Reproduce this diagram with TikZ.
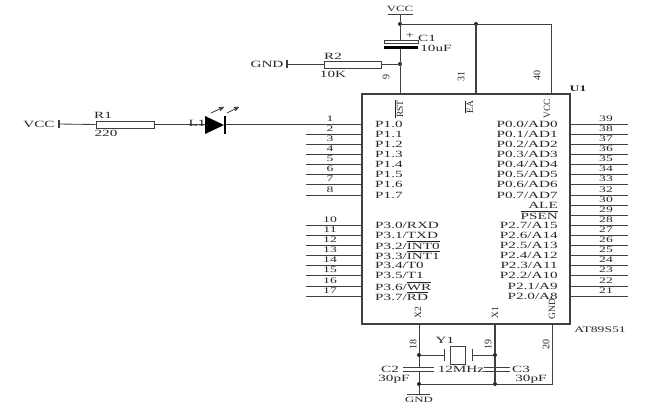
\documentclass[tikz,border=0pt]{standalone}
\usepackage{fontspec}
\setmainfont[FakeStretch=1.6]{Liberation Serif}
\newfontfamily\rotfont{Liberation Serif}
\usetikzlibrary{shapes,arrows,backgrounds,positioning}
\definecolor{wirecol}{gray}{0.25}
\newcommand{\ol}[1]{$\overline{\mbox{#1}}$}
\tikzset{
  wire/.style = {draw=wirecol, line width=0.85pt},
  thickwire/.style = {draw=wirecol, line width=1.4pt},
  txt/.style = {inner sep=0pt, font=\fontsize{9.5}{10}\selectfont, text=black!85},
  pinnum/.style = {txt, font=\fontsize{8.5}{9}\selectfont},
  rotnum/.style = {txt, rotate=90, font=\rotfont\fontsize{10}{10}\selectfont},
  rottxt/.style = {txt, rotate=90, font=\rotfont\fontsize{9.5}{10}\selectfont},
  res/.style = {rectangle, draw=wirecol, line width=0.9pt, fill=white, inner sep=0pt, minimum height=7pt},
  chip/.style = {rectangle, draw=black!75, line width=1.2pt, inner sep=0pt, minimum width=208pt, minimum height=230pt},
  dot/.style = {circle, fill=black!85, inner sep=0pt, minimum size=4pt}
}
\begin{document}
\begin{tikzpicture}[x=1pt,y=-1pt,>=stealth']
    \useasboundingbox (0,0) rectangle (649,408);
    \node [chip](U) at (466,209) {};
    \node [txt, font=\bfseries\fontsize{8.5}{10}\selectfont](U1) at (578,89) {U1};
    \node [txt, font=\fontsize{8.5}{9}\selectfont](part) at (600,330) {AT89S51};
    % left pins
    \foreach \n/\y/\t in {2/134/{P1.1},3/144/{P1.2},4/154/{P1.3},5/164/{P1.4},6/174/{P1.5},7/184/{P1.6},8/195/{P1.7},
      10/225/{P3.0/RXD},11/235/{P3.1/TXD},12/245/{P3.2/\ol{INT0}},13/255/{P3.3/\ol{INT1}},14/265/{P3.4/T0},15/275/{P3.5/T1},16/286/{P3.6/\ol{WR}},17/296/{P3.7/\ol{RD}}}{
      \coordinate (pl\n) at (306,\y);
      \coordinate (cl\n) at (U.west |- pl\n);
      \draw [wire] (pl\n) -- (cl\n);
      \node [pinnum](nl\n) at (330,\y-5) {\n};
      \node [txt, anchor=west](tl\n) at (375,\y) {\t};
    }
    % right pins
    \foreach \n/\y/\t in {39/124/{P0.0/AD0},38/134/{P0.1/AD1},37/144/{P0.2/AD2},36/154/{P0.3/AD3},35/164/{P0.4/AD4},34/174/{P0.5/AD5},33/184/{P0.6/AD6},32/195/{P0.7/AD7},
      30/205/{ALE},29/215/{\ol{PSEN}},
      28/225/{P2.7/A15},27/235/{P2.6/A14},26/245/{P2.5/A13},25/255/{P2.4/A12},24/265/{P2.3/A11},23/275/{P2.2/A10},22/286/{P2.1/A9},21/296/{P2.0/A8}}{
      \coordinate (pr\n) at (628,\y);
      \coordinate (cr\n) at (U.east |- pr\n);
      \draw [wire] (cr\n) -- (pr\n);
      \node [pinnum](nr\n) at (606,\y-5) {\n};
      \node [txt, anchor=east](tr\n) at (558,\y) {\t};
    }
    % R1 and led
    \node [txt](vcc1) at (39,124) {VCC};
    \coordinate (b1t) at (59,120);
    \coordinate (b1b) at (59,128);
    \coordinate (b1) at (59,124);
    \node [res, minimum width=58pt](R1) at (125,124.5) {};
    \node [txt](R1t) at (103,115) {R1};
    \node [txt](R1v) at (106,133) {220};
    \coordinate (la) at (205,124.5);
    \coordinate (lk) at (225,124.5);
    \coordinate (cl1) at (U.west |- lk);
    \draw [wire, line width=1.1pt] (b1t) -- (b1b);
    \draw [wire] (b1) -- (R1.west);
    \draw [wire] (R1.east) -- (la);
    \draw [wire] (lk) -- (cl1);
    \node [txt](L1) at (197,123) {L1};
    \fill [black] (205,116) -- (205,134) -- (224,125) -- cycle;
    \draw [black, line width=1.6pt] (225,116) -- (225,134);
    \draw [->, wire] (211,113) -- (224,107);
    \draw [->, wire] (227,113) -- (239,107);
    \node [pinnum](nl1) at (330,119) {1};
    \node [txt, anchor=west](tl1) at (375,124) {P1.0};
    % reset and vcc
    \node [txt, font=\fontsize{8}{9}\selectfont](vcc2) at (400,9) {VCC};
    \coordinate (b2) at (400,14);
    \draw [wire] (388,14) -- (413,14);
    \node [dot](j1) at (400,24) {};
    \node [dot](j2) at (476,24) {};
    \coordinate (corner) at (551,24);
    \node [dot](j3) at (400,64) {};
    \node [res, minimum width=34pt, minimum height=3pt](C1a) at (401,41.5) {};
    \node [rectangle, fill=black, inner sep=0pt, minimum width=34pt, minimum height=3pt](C1b) at (401,47.5) {};
    \node [txt](plus) at (410,36) {+};
    \node [txt](C1) at (427,38) {C1};
    \node [txt](C1v) at (436,48) {10uF};
    \node [res, minimum width=57pt](R2) at (352.5,64.5) {};
    \node [txt](R2t) at (333,56) {R2};
    \node [txt](R2v) at (333,74) {10K};
    \node [txt](gnd1) at (267,64) {GND};
    \draw [wire, line width=1.1pt] (287,60) -- (287,68);
    \coordinate (b3) at (287,64.5);
    \draw [wire] (b3) -- (R2.west);
    \draw [wire] (R2.east) -- (j3 |- R2.east);
    \draw [wire, line width=1pt] (b2) -- (C1a.north -| b2);
    \draw [wire, line width=1pt] (C1b.south -| b2) -- (b2 |- U.north);
    \draw [wire] (j1) -- (corner) -- (corner |- U.north);
    \draw [thickwire] (j2) -- (j2 |- U.north);
    \node [rotnum](n9) at (386,77) {9};
    \node [rotnum](n31) at (461,76) {31};
    \node [rotnum](n40) at (537,75) {40};
    \node [rottxt](RST) at (399,109) {\ol{RST}};
    \node [rottxt](EA) at (469,107) {\ol{EA}};
    \node [rottxt](VCCp) at (547,109) {VCC};
    % crystal
    \node [rottxt](X2) at (418,313) {X2};
    \node [rottxt](X1) at (495,313) {X1};
    \node [rottxt](GNDp) at (552,309) {GND};
    \node [rotnum](n18) at (413,344) {18};
    \node [rotnum](n19) at (488,344) {19};
    \node [rotnum](n20) at (546,344) {20};
    \node [dot](j4) at (419,355) {};
    \node [dot](j5) at (495,355) {};
    \node [dot](j6) at (419,384) {};
    \node [dot](j7) at (495,384) {};
    \coordinate (gnd2) at (419,394);
    \coordinate (p1) at (444,355);
    \coordinate (p2) at (472,355);
    \node [res, minimum width=15pt, minimum height=18pt](Y1) at (457.5,355) {};
    \node [txt](Y1t) at (445,340) {Y1};
    \draw [wire] (444,349) -- (444,361);
    \draw [wire] (472,349) -- (472,361);
    \draw [wire] (j4) -- (p1);
    \draw [wire] (p2) -- (j5);
    \draw [wire] (j4 |- U.south) -- (j4) -- (419,367.5);
    \draw [wire] (419,371.5) -- (j6) -- (gnd2);
    \draw [thickwire] (j5 |- U.south) -- (j5) -- (j7);
    \draw [wire] (j6) -- (j7) -- (552,384) -- (552,324);
    \draw [wire] (403,367.5) -- (434,367.5);
    \draw [wire] (403,371.5) -- (434,371.5);
    \draw [wire] (480,367.5) -- (510,367.5);
    \draw [wire] (480,371.5) -- (510,371.5);
    \draw [wire] (407,394) -- (430,394);
    \node [txt, fill=white](MHz) at (461,369) {12MHz};
    \node [txt](C2) at (390,369) {C2};
    \node [txt](C3) at (521,369) {C3};
    \node [txt](C2v) at (394,379) {30pF};
    \node [txt](C3v) at (531,379) {30pF};
    \node [txt, font=\fontsize{8}{9}\selectfont](gnd3) at (419,400) {GND};
\end{tikzpicture}
\end{document}
